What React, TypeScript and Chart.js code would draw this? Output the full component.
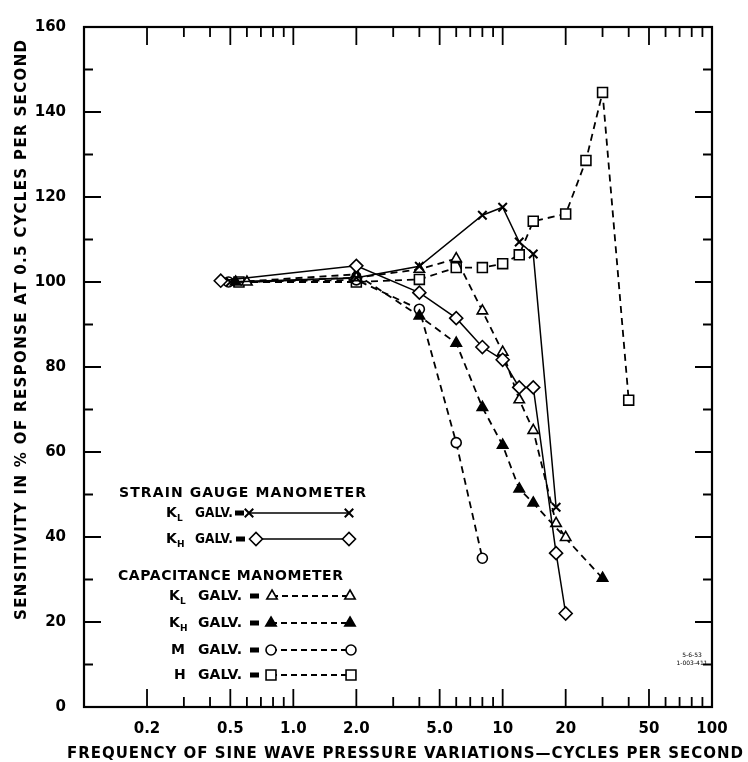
import React, { useEffect, useRef } from "react";
import { Chart, registerables } from "chart.js";

Chart.register(...registerables);

// ---- data (frequency in cycles/s, sensitivity in %) ----
const klStrainFreq = [0.5, 2, 4, 8, 10, 12, 14, 18];
const klStrainVal = [100, 101, 103.7, 115.7, 117.6, 109.4, 106.6, 47];

const khStrainFreq = [0.45, 2, 4, 6, 8, 10, 12, 14, 18, 20];
const khStrainVal = [100.3, 103.8, 97.5, 91.5, 84.7, 81.7, 75.2, 75.2, 36.2, 22];

const klCapFreq = [0.6, 2, 4, 6, 8, 10, 12, 14, 18, 20];
const klCapVal = [100, 101, 103, 105.5, 93.2, 83.5, 72.3, 65.1, 43.2, 39.9];

const khCapFreq = [0.53, 2, 4, 6, 8, 10, 12, 14, 30];
const khCapVal = [100, 101.8, 92, 85.6, 70.5, 61.6, 51.3, 48, 30.3];

const mFreq = [0.49, 2, 4, 6, 8];
const mVal = [100, 100.5, 93.6, 62.2, 35];

const hFreq = [0.55, 2, 4, 6, 8, 10, 12, 14, 20, 25, 30, 40];
const hVal = [100, 100, 100.6, 103.4, 103.4, 104.3, 106.4, 114.3, 116, 128.6, 144.6, 72.2];

const X_TICKS = [0.2, 0.5, 1, 2, 5, 10, 20, 50, 100];
const X_TICK_LABELS = ["0.2", "0.5", "1.0", "2.0", "5.0", "10", "20", "50", "100"];
const Y_TICKS = [0, 20, 40, 60, 80, 100, 120, 140, 160];

const X_TITLE = "FREQUENCY OF SINE WAVE PRESSURE VARIATIONS\u2014CYCLES PER SECOND";
const Y_TITLE = "SENSITIVITY IN % OF RESPONSE AT 0.5 CYCLES PER SECOND";

const STRAIN_HEADING = "STRAIN GAUGE MANOMETER";
const CAP_HEADING = "CAPACITANCE MANOMETER";

const FONT = "DejaVu Sans";
const DASH = [7, 5];

type Marker = "crossRot" | "rectRot" | "triangle" | "circle" | "rect";

function drawMarker(ctx: CanvasRenderingContext2D, style: Marker, x: number, y: number, r: number, fill: string) {
  ctx.save();
  ctx.setLineDash([]);
  ctx.beginPath();
  if (style === "crossRot") {
    const d = r * Math.SQRT1_2;
    ctx.moveTo(x - d, y - d);
    ctx.lineTo(x + d, y + d);
    ctx.moveTo(x + d, y - d);
    ctx.lineTo(x - d, y + d);
    ctx.lineWidth = 2;
    ctx.stroke();
    ctx.restore();
    return;
  }
  if (style === "rectRot") {
    ctx.moveTo(x - r, y);
    ctx.lineTo(x, y - r);
    ctx.lineTo(x + r, y);
    ctx.lineTo(x, y + r);
    ctx.closePath();
  } else if (style === "triangle") {
    let a = 0;
    ctx.moveTo(x + Math.sin(a) * r, y - Math.cos(a) * r);
    a += (2 * Math.PI) / 3;
    ctx.lineTo(x + Math.sin(a) * r, y - Math.cos(a) * r);
    a += (2 * Math.PI) / 3;
    ctx.lineTo(x + Math.sin(a) * r, y - Math.cos(a) * r);
    ctx.closePath();
  } else if (style === "circle") {
    ctx.arc(x, y, r, 0, Math.PI * 2);
  } else {
    const s = r * Math.SQRT1_2;
    ctx.rect(x - s, y - s, 2 * s, 2 * s);
  }
  ctx.fillStyle = fill;
  ctx.fill();
  ctx.lineWidth = 1.6;
  ctx.strokeStyle = "#000";
  ctx.stroke();
  ctx.restore();
}

function spaced(ctx: CanvasRenderingContext2D, text: string, leftX: number, cy: number, width: number, font: string) {
  ctx.save();
  ctx.font = font;
  (ctx as any).letterSpacing = "0px";
  const w0 = ctx.measureText(text).width;
  ctx.textAlign = "left";
  ctx.textBaseline = "middle";
  if (w0 >= width) {
    ctx.translate(leftX, cy);
    ctx.scale(width / w0, 1);
    ctx.fillText(text, 0, 0);
  } else {
    const ls = (width - w0) / Math.max(1, text.length - 1);
    (ctx as any).letterSpacing = `${ls}px`;
    ctx.fillText(text, leftX, cy);
    (ctx as any).letterSpacing = "0px";
  }
  ctx.restore();
}

type Row = { main: string; sub: string; mainX: number; galvX: number; galvW: number; eqX: number; m1: number; m2: number; y: number; style: Marker; r: number; fill: string; dashed: boolean };

const legendRows: Row[] = [
  { main: "K", sub: "L", mainX: 166, galvX: 195, galvW: 38, eqX: 239, m1: 249, m2: 349, y: 513, style: "crossRot", r: 6, fill: "#000", dashed: false },
  { main: "K", sub: "H", mainX: 166, galvX: 195, galvW: 38, eqX: 240, m1: 256, m2: 349, y: 539, style: "rectRot", r: 6.5, fill: "#fff", dashed: false },
  { main: "K", sub: "L", mainX: 169, galvX: 198, galvW: 44, eqX: 254, m1: 272, m2: 350, y: 596, style: "triangle", r: 6, fill: "#fff", dashed: true },
  { main: "K", sub: "H", mainX: 169, galvX: 198, galvW: 44, eqX: 254, m1: 271, m2: 350, y: 623, style: "triangle", r: 6, fill: "#000", dashed: true },
  { main: "M", sub: "", mainX: 171, galvX: 198, galvW: 44, eqX: 254, m1: 271, m2: 351, y: 650, style: "circle", r: 5, fill: "#fff", dashed: true },
  { main: "H", sub: "", mainX: 174, galvX: 198, galvW: 44, eqX: 254, m1: 271, m2: 351, y: 675, style: "rect", r: 7, fill: "#fff", dashed: true },
];

const overlayPlugin = {
  id: "overlay",
  afterDraw(chart: any) {
    const ctx: CanvasRenderingContext2D = chart.ctx;
    const { left, right, top, bottom } = chart.chartArea;
    const xs = chart.scales.x;
    const ys = chart.scales.y;
    ctx.save();
    ctx.setLineDash([]);
    ctx.strokeStyle = "#000";
    ctx.fillStyle = "#000";
    ctx.lineWidth = 2.2;
    ctx.strokeRect(left, top, right - left, bottom - top);

    // inward ticks
    ctx.lineWidth = 1.8;
    ctx.beginPath();
    for (let v = 10; v < 160; v += 10) {
      const py = ys.getPixelForValue(v);
      const len = v % 20 === 0 ? 17 : 9;
      ctx.moveTo(left, py);
      ctx.lineTo(left + len, py);
      ctx.moveTo(right, py);
      ctx.lineTo(right - len, py);
    }
    for (const dec of [0.1, 1, 10]) {
      for (let m = 1; m <= 9; m++) {
        const v = m * dec;
        if (m === 1 && dec === 0.1) continue;
        const px = xs.getPixelForValue(v);
        const len = m === 1 || m === 2 || m === 5 ? 18 : 10;
        ctx.moveTo(px, bottom);
        ctx.lineTo(px, bottom - len);
        ctx.moveTo(px, top);
        ctx.lineTo(px, top + len);
      }
    }
    ctx.stroke();

    // axis titles
    spaced(ctx, X_TITLE, 67, 754, 676, `bold 15px '${FONT}'`);
    ctx.save();
    ctx.translate(22, 330);
    ctx.rotate(-Math.PI / 2);
    spaced(ctx, Y_TITLE, -290, 0, 580, `bold 15px '${FONT}'`);
    ctx.restore();

    // legend
    spaced(ctx, STRAIN_HEADING, 119, 493, 247, `bold 14px '${FONT}'`);
    spaced(ctx, CAP_HEADING, 118, 576, 225, `bold 14px '${FONT}'`);
    for (const r of legendRows) {
      ctx.font = `bold 14px '${FONT}'`;
      ctx.textAlign = "left";
      ctx.textBaseline = "middle";
      ctx.fillText(r.main, r.mainX, r.y);
      if (r.sub) {
        ctx.font = `bold 9px '${FONT}'`;
        ctx.fillText(r.sub, r.mainX + 11, r.y + 6);
      }
      spaced(ctx, "GALV.", r.galvX, r.y, r.galvW, `bold 14px '${FONT}'`);
      ctx.fillRect(r.eqX - 4, r.y - 2.5, 9, 5);
      ctx.save();
      ctx.lineWidth = r.dashed ? 1.8 : 1.5;
      ctx.setLineDash(r.dashed ? [6, 4] : []);
      ctx.beginPath();
      ctx.moveTo(r.m1, r.y);
      ctx.lineTo(r.m2, r.y);
      ctx.stroke();
      ctx.restore();
      drawMarker(ctx, r.style, r.m1, r.y, r.r, r.fill);
      drawMarker(ctx, r.style, r.m2, r.y, r.r, r.fill);
    }

    // drawing number stamp
    ctx.font = `6px '${FONT}'`;
    ctx.textAlign = "center";
    ctx.fillText("5-6-53", 692, 655);
    ctx.fillText("1-003-411", 692, 663);
    ctx.restore();
  },
};

function pts(f: number[], v: number[]) {
  return f.map((x, i) => ({ x, y: v[i] }));
}

export default function App() {
  const ref = useRef<HTMLCanvasElement | null>(null);

  useEffect(() => {
    if (!ref.current) return;
    const common = { borderColor: "#000", pointBorderColor: "#000", pointBorderWidth: 1.6, tension: 0 };
    const chart = new Chart(ref.current, {
      type: "line",
      data: {
        datasets: [
          { ...common, label: "KL strain", data: pts(klStrainFreq, klStrainVal), borderWidth: 1.5, pointStyle: "crossRot", pointRadius: 6, pointBorderWidth: 2, pointBackgroundColor: "#000" },
          { ...common, label: "KH strain", data: pts(khStrainFreq, khStrainVal), borderWidth: 1.5, pointStyle: "rectRot", pointRadius: 6.5, pointBackgroundColor: "#fff" },
          { ...common, label: "KL cap", data: pts(klCapFreq, klCapVal), borderWidth: 1.8, borderDash: DASH, pointStyle: "triangle", pointRadius: 6, pointBackgroundColor: "#fff" },
          { ...common, label: "KH cap", data: pts(khCapFreq, khCapVal), borderWidth: 1.8, borderDash: DASH, pointStyle: "triangle", pointRadius: 6, pointBackgroundColor: "#000" },
          { ...common, label: "M", data: pts(mFreq, mVal), borderWidth: 1.8, borderDash: DASH, pointStyle: "circle", pointRadius: 5, pointBackgroundColor: "#fff" },
          { ...common, label: "H", data: pts(hFreq, hVal), borderWidth: 1.8, borderDash: DASH, pointStyle: "rect", pointRadius: 7, pointBackgroundColor: "#fff" },
        ] as any,
      },
      options: {
        animation: false,
        responsive: true,
        maintainAspectRatio: false,
        events: [],
        layout: { padding: { top: 19, right: 36, bottom: 0, left: 0 } },
        plugins: { legend: { display: false }, tooltip: { enabled: false }, title: { display: false } },
        scales: {
          x: {
            type: "logarithmic",
            min: 0.1,
            max: 100,
            grid: { display: false, drawTicks: false },
            border: { display: false },
            afterBuildTicks: (s: any) => {
              s.ticks = X_TICKS.map((v) => ({ value: v }));
            },
            afterFit: (s: any) => {
              s.height = 55;
            },
            ticks: {
              autoSkip: false,
              maxRotation: 0,
              minRotation: 0,
              padding: 13,
              color: "#000",
              font: { family: FONT, size: 15, weight: "bold" },
              callback: (_v: any, i: number) => X_TICK_LABELS[i],
            },
          },
          y: {
            type: "linear",
            min: 0,
            max: 160,
            grid: { display: false, drawTicks: false },
            border: { display: false },
            afterBuildTicks: (s: any) => {
              s.ticks = Y_TICKS.map((v) => ({ value: v }));
            },
            afterFit: (s: any) => {
              s.width = 84;
            },
            ticks: {
              padding: 18,
              color: "#000",
              font: { family: FONT, size: 15, weight: "bold" },
              callback: (v: any) => String(v),
            },
          },
        },
      } as any,
      plugins: [overlayPlugin],
    });
    return () => chart.destroy();
  }, []);

  return (
    <div style={{ position: "fixed", left: 0, top: 0, width: 748, height: 762, background: "#fff" }}>
      <canvas ref={ref} />
    </div>
  );
}
